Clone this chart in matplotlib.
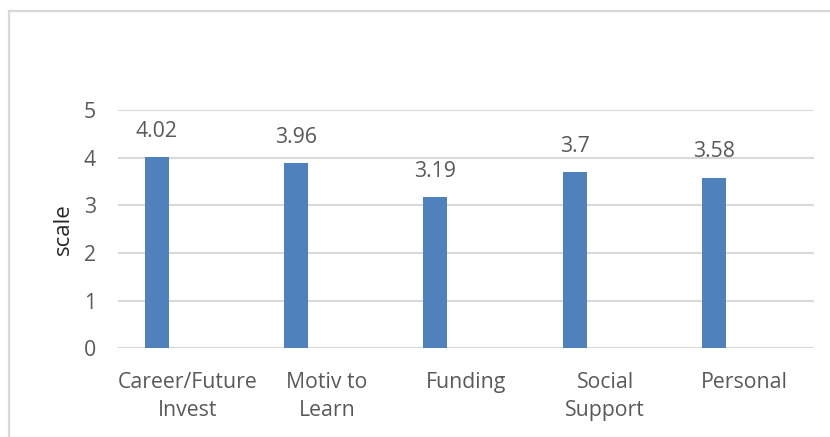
import matplotlib
matplotlib.use("Agg")
import matplotlib.pyplot as plt
from matplotlib.patches import Rectangle
import numpy as np

categories = ["Career/Future\nInvest", "Motiv to\nLearn", "Funding", "Social\nSupport", "Personal"]
bar_values = [4.02, 3.89, 3.18, 3.70, 3.58]
label_texts = ["4.02", "3.96", "3.19", "3.7", "3.58"]
y_ticks = [0, 1, 2, 3, 4, 5]

plt.rcParams['font.family'] = ['Open Sans', 'DejaVu Sans']
text_color = "#595959"
grid_color = "#d9d9d9"
bar_color = "#4f81bd"
fs = 15.3

W, H = 830, 437
fig = plt.figure(figsize=(W / 100, H / 100), dpi=100)
left, right, top, bottom = 118, 814, 110, 348.3
ax = fig.add_axes([left / W, 1 - bottom / H, (right - left) / W, (bottom - top) / H])

x = np.arange(len(categories))
offset = -0.22
width = 0.172
bars = ax.bar(x + offset, bar_values, width=width, color=bar_color, zorder=3)

for xi, v, t in zip(x, bar_values, label_texts):
    ax.annotate(t, (xi + offset, v), xytext=(0, 18.5), textcoords="offset points",
                ha="center", va="center", fontsize=fs, color=text_color)

ax.set_xlim(-0.5, len(categories) - 0.5)
ax.set_ylim(0, 5)
ax.set_yticks(y_ticks)
ax.set_xticks(x)
ax.set_xticklabels(categories, fontsize=fs, color=text_color, linespacing=1.45)
ax.tick_params(axis="y", length=0, pad=16, labelsize=fs, labelcolor=text_color)
ax.tick_params(axis="x", length=0, pad=17)
ax.yaxis.grid(True, color=grid_color, linewidth=1.5, zorder=0)
for s in ax.spines.values():
    s.set_visible(False)
ax.set_ylabel("scale", fontsize=16, color="#262626", labelpad=7)

fig.patches.append(Rectangle((9 / W, -0.1), 1.2, 1 - 11 / H + 0.1, transform=fig.transFigure,
                             fill=False, edgecolor=grid_color, linewidth=1.6, zorder=0))

fig.savefig("out.png", dpi=100)
